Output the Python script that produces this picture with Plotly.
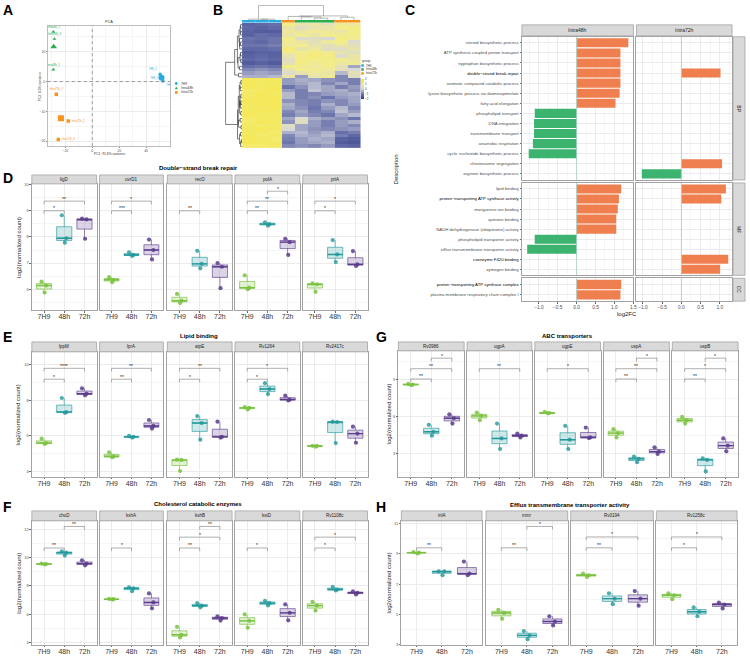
import numpy as np
import plotly.graph_objects as go

W, H = 750, 658
FONT = "Liberation Sans, Arial, Helvetica, sans-serif"
GRID = "#EBEBEB"
MINOR = "#F5F5F5"
BORDER = "#A3A3A3"
STRIP = "#D9D9D9"

# ---------------- Panel A : PCA ----------------
pca_samples = ["7H9_1", "7H9_2", "7H9_3", "Intra48h_1", "Intra48h_2", "Intra48h_3",
               "Intra72h_1", "Intra72h_2", "Intra72h_3"]
pca_group = ["7H9"] * 3 + ["Intra48h"] * 3 + ["Intra72h"] * 3
pca_pc1 = [50.4, 51.6, 52.5, -28.9, -28.9, -28.1, -26.7, -17.8, -25.2]
pca_pc2 = [2.4, 1.2, 0.2, 4.0, 16.7, 14.3, -4.3, -13.3, -19.5]
pca_textpos = ["top left", "middle left", "bottom right", "top center", "top center", "top center",
               "top center", "middle right", "middle right"]
pca_groups = ["7H9", "Intra48h", "Intra72h"]
pca_colors = ["#29ABE2", "#2DAB4F", "#F7941D"]
pca_symbols = ["circle", "triangle-up", "square"]

# ---------------- Panel B : heatmap (row z-scores) ----------------
hm_columns = ["7H9_1", "7H9_2", "7H9_3", "Intra72h_1", "Intra72h_2", "Intra72h_3",
              "Intra48h_1", "Intra48h_2", "Intra48h_3"]
hm_col_group = [0, 0, 0, 2, 2, 2, 1, 1, 1]
hm_values = [
    [-1.3, -1.2, -1.1, 0.9, 0.8, 0.7, 0.5, 0.6, 0.4],
    [-1.2, -1.3, -1.2, 0.6, 0.9, 1.0, 0.3, 0.5, 0.6],
    [-1.4, -1.3, -1.3, 0.8, 0.5, 0.3, 0.9, 1.0, 0.8],
    [-1.1, -1.0, -1.1, 1.0, 0.4, -0.5, 0.8, 0.7, 0.9],
    [-1.3, -1.4, -1.4, 0.7, 0.6, 0.9, 0.6, 0.8, 0.7],
    [-1.2, -1.1, -1.2, 0.3, 0.8, 0.6, 1.0, 0.9, 1.0],
    [-1.0, -1.1, -1.0, 0.9, 1.0, 0.8, 0.2, 0.3, 0.1],
    [-1.3, -1.2, -1.3, 0.5, 0.2, 0.6, 0.9, 1.1, 1.0],
    [-1.1, -1.2, -1.0, 0.8, 0.9, 0.2, 0.6, 0.4, 0.7],
    [-1.4, -1.3, -1.4, 0.4, 0.7, 0.8, 1.0, 0.8, 0.9],
    [-1.2, -1.2, -1.1, 1.1, 0.3, 0.5, 0.5, 0.7, 0.3],
    [-1.3, -1.1, -1.2, 0.6, 0.8, 0.9, 0.8, 0.6, 0.9],
    [-1.0, -1.0, -0.9, 0.7, 0.6, 0.4, 0.9, 0.5, 0.4],
    [-0.6, -0.5, -0.6, 0.2, -0.3, 0.4, 0.5, 0.7, 0.6],
    [-0.4, -0.4, -0.3, 0.6, -0.8, 0.3, -0.6, 0.5, 0.8],
    [-0.8, -0.7, -0.8, 0.5, 0.4, 0.1, 0.9, 0.8, 0.7],
    [1.5, 1.4, 1.5, -0.6, -0.8, -0.9, -0.4, -0.5, -0.7],
    [1.4, 1.5, 1.4, -0.3, -0.5, -0.4, -0.9, -0.8, -0.6],
    [1.5, 1.5, 1.4, -0.8, -0.2, -0.6, -0.5, -0.9, -0.8],
    [1.3, 1.4, 1.4, -0.5, -0.7, -1.0, 0.2, -0.4, -0.6],
    [1.5, 1.4, 1.5, -1.0, -0.9, -0.6, -0.7, -0.3, -0.5],
    [1.4, 1.3, 1.4, 0.3, -0.6, -0.8, -0.5, -0.6, -0.9],
    [1.5, 1.5, 1.5, -0.7, -0.8, -0.5, -0.8, -0.9, -0.7],
    [1.4, 1.4, 1.3, -0.4, -1.1, -0.9, -0.3, -0.6, -0.4],
    [1.5, 1.4, 1.4, -0.9, -0.5, -0.3, -0.6, -0.8, -1.0],
    [1.3, 1.4, 1.5, -0.6, -0.4, -0.7, -0.9, -0.2, -0.5],
    [1.4, 1.5, 1.4, 0.1, -0.7, -0.6, -0.5, -0.7, -0.8],
    [1.5, 1.3, 1.4, -0.8, -0.9, -1.2, -0.4, -0.5, -0.3],
    [1.4, 1.4, 1.5, -0.5, -0.3, -0.8, -0.7, -1.0, -0.6],
    [1.3, 1.5, 1.4, -0.7, -0.6, -0.4, 0.3, -0.6, -0.9],
    [1.5, 1.4, 1.3, -0.9, -1.3, -1.4, -0.6, -0.4, -0.5],
    [1.4, 1.5, 1.5, -0.4, -0.8, -0.6, -0.8, -0.9, -0.4],
    [1.5, 1.4, 1.4, -0.6, -0.5, -0.9, -0.5, -0.3, -0.8],
    [1.3, 1.3, 1.4, -0.8, -1.2, -1.3, -0.7, -0.8, -0.6],
    [1.4, 1.5, 1.5, -0.3, -0.6, -0.5, -0.9, -0.7, -1.0],
    [1.5, 1.4, 1.4, -1.0, -1.4, -1.5, -0.6, -0.5, -0.4],
]

# ---------------- Panel C : GO enrichment ----------------
bp_terms = ["steroid biosynthetic process", "ATP synthesis coupled proton transport",
            "tryptophan biosynthetic process", "double\u2212strand break repair",
            "aromatic compound catabolic process", "lysine biosynthetic process via diaminopimelate",
            "fatty acid elongation", "phospholipid transport", "DNA integration",
            "transmembrane transport", "anaerobic respiration",
            "cyclic nucleotide biosynthetic process", "chromosome segregation",
            "arginine biosynthetic process"]
bp_48h = [1.37, 1.16, 1.16, 1.16, 1.16, 1.14, 1.03, -1.11, -1.13, -1.13, -1.16, -1.27, None, None]
bp_72h = [None, None, None, 1.02, None, None, None, None, None, None, None, None, 1.06, -1.03]
mf_terms = ["lipid binding", "proton\u2212transporting ATP synthase activity", "manganese ion binding",
            "quinone binding", "NADH dehydrogenase (ubiquinone) activity",
            "phospholipid transporter activity", "efflux transmembrane transporter activity",
            "coenzyme F420 binding", "zymogen binding"]
mf_48h = [1.18, 1.12, 1.09, 1.05, 1.05, -1.11, -1.31, None, None]
mf_72h = [1.16, 1.04, None, None, None, None, None, 1.22, 1.01]
cc_terms = ["proton\u2212transporting ATP synthase complex", "plasma membrane respiratory chain complex I"]
cc_48h = [1.18, 1.16]
cc_72h = [None, None]
highlight_terms = ["double\u2212strand break repair", "proton\u2212transporting ATP synthase activity",
                   "coenzyme F420 binding", "proton\u2212transporting ATP synthase complex"]

# ---------------- Box panels ----------------
box_groups = ["7H9", "48h", "72h"]

D_genes = ["ligD", "uvrD1", "recO", "polA", "priA"]
D_7H9 = [[6.29, 6.14, 5.87], [6.46, 6.36, 6.27], [5.82, 5.56, 5.47], [6.53, 6.06, 6.00], [6.22, 6.19, 5.90]]
D_48h = [[8.83, 7.95, 7.78], [7.41, 7.31, 7.27], [7.47, 6.97, 6.80], [8.56, 8.49, 8.43], [7.88, 7.33, 7.04]]
D_72h = [[8.70, 8.67, 7.93], [7.90, 7.50, 7.14], [7.00, 6.86, 6.04], [7.93, 7.80, 7.31], [7.46, 6.95, 6.89]]
D_sig = [("ligD", 0, 1, "*", 9.0), ("ligD", 0, 2, "**", 9.37), ("uvrD1", 0, 1, "***", 9.0),
         ("uvrD1", 0, 2, "*", 9.37), ("recO", 0, 1, "**", 9.0), ("polA", 0, 1, "**", 9.0),
         ("polA", 0, 2, "**", 9.37), ("polA", 1, 2, "*", 9.75), ("priA", 0, 1, "*", 9.0),
         ("priA", 0, 2, "*", 9.37)]

E_genes = ["lppM", "lprA", "atpE", "Rv1264", "Rv2417c"]
E_7H9 = [[5.85, 5.60, 5.55], [5.09, 4.85, 4.81], [4.68, 4.66, 4.04], [7.61, 7.57, 7.48], [5.45, 5.44, 5.40]]
E_48h = [[8.12, 7.33, 7.29], [6.00, 5.95, 5.91], [7.11, 6.72, 5.79], [8.95, 8.62, 8.34], [6.80, 6.78, 5.60]]
E_72h = [[8.66, 8.36, 8.27], [6.89, 6.56, 6.41], [6.80, 5.95, 5.91], [8.25, 8.03, 7.98], [6.52, 6.13, 5.62]]
E_sig = [("lppM", 0, 1, "*", 9.17), ("lppM", 0, 2, "****", 9.78), ("lprA", 0, 1, "**", 9.17),
         ("lprA", 0, 2, "**", 9.78), ("atpE", 0, 1, "*", 9.17), ("atpE", 0, 2, "**", 9.78),
         ("Rv1264", 0, 1, "*", 9.17), ("Rv1264", 0, 2, "*", 9.78)]

F_genes = ["choD", "kshA", "kshB", "kstD", "Rv1108c"]
F_7H9 = [[9.59, 9.56, 9.54], [7.08, 7.06, 7.03], [5.10, 4.53, 4.34], [5.98, 5.52, 5.03], [6.87, 6.60, 6.25]]
F_48h = [[10.46, 10.37, 10.16], [7.91, 7.84, 7.63], [6.78, 6.60, 6.48], [6.94, 6.78, 6.62], [7.93, 7.75, 7.68]]
F_72h = [[9.82, 9.59, 9.47], [7.47, 6.83, 6.41], [5.84, 5.72, 5.54], [6.69, 6.09, 5.56], [7.61, 7.52, 7.40]]
F_sig = [("choD", 0, 1, "**", 10.7), ("choD", 1, 2, "**", 12.23), ("kshA", 0, 1, "*", 10.7),
         ("kshB", 0, 1, "**", 10.7), ("kshB", 0, 2, "*", 11.47), ("kshB", 1, 2, "**", 12.23),
         ("kstD", 0, 1, "*", 10.7), ("Rv1108c", 0, 1, "*", 10.7), ("Rv1108c", 0, 2, "*", 11.47)]

G_genes = ["Rv0986", "ugpA", "ugpE", "uspA", "uspB"]
G_7H9 = [[8.65, 8.60, 8.55], [6.33, 6.07, 5.72], [6.39, 6.30, 6.28], [5.00, 4.68, 4.33], [5.99, 5.72, 5.45]]
G_48h = [[5.35, 4.79, 4.47], [5.45, 4.25, 3.40], [5.27, 4.15, 3.40], [2.79, 2.60, 2.33], [2.65, 2.52, 1.59]]
G_72h = [[6.20, 5.88, 5.45], [4.65, 4.47, 4.33], [5.13, 4.33, 4.28], [3.53, 3.19, 3.00], [4.25, 3.67, 3.21]]
G_sig = [("Rv0986", 0, 1, "**", 9.05), ("Rv0986", 0, 2, "**", 9.88), ("Rv0986", 1, 2, "*", 10.73),
         ("ugpA", 0, 2, "**", 9.88), ("ugpE", 0, 2, "*", 9.88), ("uspA", 0, 1, "**", 9.05),
         ("uspA", 0, 2, "**", 9.88), ("uspA", 1, 2, "*", 10.73), ("uspB", 0, 1, "**", 9.05),
         ("uspB", 0, 2, "*", 9.88), ("uspB", 1, 2, "*", 10.73)]

H_genes = ["inlA", "mmr", "Rv0194", "Rv1258c"]
H_7H9 = [[9.13, 9.09, 9.04], [5.30, 5.09, 4.70], [7.70, 7.59, 7.48], [6.39, 6.26, 6.00]]
H_48h = [[7.85, 7.85, 7.59], [3.89, 3.60, 3.35], [6.39, 6.04, 5.67], [5.46, 5.17, 4.87]]
H_72h = [[8.50, 7.70, 7.59], [4.87, 4.52, 4.26], [6.54, 6.04, 5.57], [5.78, 5.65, 5.39]]
H_sig = [("inlA", 0, 1, "**", 9.41), ("mmr", 0, 1, "**", 9.41), ("mmr", 1, 2, "*", 10.83),
         ("Rv0194", 0, 1, "**", 9.41), ("Rv0194", 0, 2, "*", 10.13), ("Rv1258c", 0, 1, "*", 9.41),
         ("Rv1258c", 0, 2, "*", 10.13)]

# ---------------- helpers ----------------
fig = go.Figure()
axes_layout = {}
shapes = []
annotations = []
n_axes = [0]


def add_axes(x0, x1, y0, y1, xo=None, yo=None):
    n_axes[0] += 1
    n = n_axes[0]
    s = "" if n == 1 else str(n)
    xd = dict(domain=[x0 / W, x1 / W], anchor="y" + s, fixedrange=True)
    yd = dict(domain=[1 - y1 / H, 1 - y0 / H], anchor="x" + s, fixedrange=True)
    if xo:
        xd.update(xo)
    if yo:
        yd.update(yo)
    axes_layout["xaxis" + s] = xd
    axes_layout["yaxis" + s] = yd
    return "x" + s, "y" + s


def text_px(x, y, s, size, color="#000000", bold=False, xanchor="center", yanchor="middle", angle=0):
    annotations.append(dict(x=x / W, y=1 - y / H, xref="paper", yref="paper",
                            text=f"<b>{s}</b>" if bold else s, showarrow=False,
                            font=dict(size=size, color=color, family=FONT),
                            xanchor=xanchor, yanchor=yanchor, textangle=angle, borderpad=0))


def rect_px(x0, y0, x1, y1, fill, line=BORDER, lw=0.8):
    shapes.append(dict(type="rect", xref="paper", yref="paper", x0=x0 / W, x1=x1 / W,
                       y0=1 - y1 / H, y1=1 - y0 / H, fillcolor=fill,
                       line=dict(color=line, width=lw)))


HIDDEN = dict(visible=False, showgrid=False, zeroline=False)

# ---------------- Panel A ----------------
xa, ya = add_axes(48, 171, 24, 145,
                  dict(range=[-33, 58], tickvals=[-20, 0, 20, 40], showgrid=True, gridcolor=GRID,
                       gridwidth=0.5, minor=dict(tickvals=[-30, -10, 10, 30, 50], showgrid=True,
                                                 gridcolor=MINOR, gridwidth=0.4),
                       zeroline=False, showline=True, mirror=True, linecolor="#BDBDBD", linewidth=0.6,
                       ticks="outside", ticklen=1, tickcolor="#888",
                       tickfont=dict(size=3.5, color="#555", family=FONT)),
                  dict(range=[-21.7, 18.7], tickvals=[-20, -10, 0, 10], showgrid=True, gridcolor=GRID,
                       gridwidth=0.5, minor=dict(tickvals=[-15, -5, 5, 15], showgrid=True,
                                                 gridcolor=MINOR, gridwidth=0.4),
                       zeroline=False, showline=True, mirror=True, linecolor="#BDBDBD", linewidth=0.6,
                       ticks="outside", ticklen=1, tickcolor="#888",
                       tickfont=dict(size=3.5, color="#555", family=FONT)))
shapes.append(dict(type="line", xref=xa, yref=ya + " domain", x0=0, x1=0, y0=0, y1=1,
                   line=dict(color="#777777", width=0.7, dash="dot")))
shapes.append(dict(type="line", xref=xa + " domain", yref=ya, x0=0, x1=1, y0=0, y1=0,
                   line=dict(color="#777777", width=0.7, dash="dot")))
pc1 = np.array(pca_pc1)
pc2 = np.array(pca_pc2)
grp = np.array(pca_group)
tpos = np.array(pca_textpos)
for gname, col, sym in zip(pca_groups, pca_colors, pca_symbols):
    m = grp == gname
    fig.add_trace(go.Scatter(x=[pc1[m].mean()], y=[pc2[m].mean()], mode="markers", xaxis=xa, yaxis=ya,
                             marker=dict(color=col, symbol=sym, size=6), hoverinfo="skip"))
    fig.add_trace(go.Scatter(x=pc1[m], y=pc2[m], mode="markers+text", xaxis=xa, yaxis=ya,
                             text=list(np.array(pca_samples)[m]), textposition=list(tpos[m]),
                             textfont=dict(size=2.8, color=col, family=FONT),
                             marker=dict(color=col, symbol=sym, size=3.5), hoverinfo="skip"))
text_px(109, 20, "PCA", 3.8, "#333")
text_px(110, 153, "PC1: 91.8% variance", 3.3, "#333")
text_px(41, 85, "PC2: 4.5% variance", 3.3, "#333", angle=-90)
for i, (gname, col) in enumerate(zip(pca_groups, pca_colors)):
    cy = 82 + 4.5 * i
    if i == 0:
        shapes.append(dict(type="circle", xref="paper", yref="paper", x0=175.6 / W, x1=178.4 / W,
                           y0=1 - (cy + 1.4) / H, y1=1 - (cy - 1.4) / H, fillcolor=col, line=dict(width=0)))
    elif i == 1:
        shapes.append(dict(type="path", xref="paper", yref="paper",
                           path=f"M {175.5 / W} {1 - (cy + 1.4) / H} L {178.5 / W} {1 - (cy + 1.4) / H} L {177 / W} {1 - (cy - 1.6) / H} Z",
                           fillcolor=col, line=dict(width=0)))
    else:
        shapes.append(dict(type="rect", xref="paper", yref="paper", x0=175.6 / W, x1=178.4 / W,
                           y0=1 - (cy + 1.4) / H, y1=1 - (cy - 1.4) / H, fillcolor=col, line=dict(width=0)))
    text_px(180.5, cy, gname, 3.3, "#333", xanchor="left")


# ---------------- Panel B ----------------
def cluster(X):
    X = np.asarray(X, float)
    n = len(X)
    D = np.sqrt(((X[:, None, :] - X[None, :, :]) ** 2).sum(-1))
    nodes = [dict(m=[i], h=0.0, l=None, r=None) for i in range(n)]
    active = list(range(n))
    while len(active) > 1:
        best = None
        for ai in range(len(active)):
            for bi in range(ai + 1, len(active)):
                a, b = active[ai], active[bi]
                d = D[np.ix_(nodes[a]["m"], nodes[b]["m"])].max()
                if best is None or d < best[0]:
                    best = (d, a, b)
        d, a, b = best
        if min(nodes[a]["m"]) > min(nodes[b]["m"]):
            a, b = b, a
        nodes.append(dict(m=nodes[a]["m"] + nodes[b]["m"], h=d, l=a, r=b))
        active = [k for k in active if k not in (a, b)] + [len(nodes) - 1]
    root = active[0]
    order = []

    def walk(k):
        if nodes[k]["l"] is None:
            order.append(k)
        else:
            walk(nodes[k]["l"])
            walk(nodes[k]["r"])

    walk(root)
    pos = {leaf: i for i, leaf in enumerate(order)}

    def p(k):
        if nodes[k]["l"] is None:
            return pos[k]
        return (p(nodes[k]["l"]) + p(nodes[k]["r"])) / 2

    ps, hs = [], []
    for k in range(n, len(nodes)):
        a, b = nodes[k]["l"], nodes[k]["r"]
        pa, pb = p(a), p(b)
        ps += [pa, pa, pb, pb, None]
        hs += [nodes[a]["h"], nodes[k]["h"], nodes[k]["h"], nodes[b]["h"], None]
    return order, ps, hs, nodes[root]["h"]


M = np.array(hm_values)
row_order, rp, rh, rmax = cluster(M)
col_order, cp, ch, cmax = cluster(M.T)
Z = M[row_order][:, col_order]
nr, nc = Z.shape
HM_SCALE = [[0, "#2E3A8A"], [0.25, "#6C75AC"], [0.5, "#D6D6DC"], [0.72, "#F3EC8C"], [1, "#F6E634"]]
xh, yh = add_axes(243, 362, 21, 147, dict(HIDDEN, range=[-0.5, nc - 0.5]),
                  dict(HIDDEN, range=[nr - 0.5, -0.5]))
fig.add_trace(go.Heatmap(z=Z, x=list(range(nc)), y=list(range(nr)), xaxis=xh, yaxis=yh,
                         colorscale=HM_SCALE, zmin=-2, zmax=2, hoverinfo="skip",
                         colorbar=dict(x=362.7 / W, xanchor="left", y=1 - 77.7 / H, yanchor="top",
                                       len=19.5, lenmode="pixels", thickness=3.2, outlinewidth=0,
                                       tickvals=[-2, -1, 0, 1, 2], ticks="", xpad=0, ypad=0,
                                       tickfont=dict(size=3, color="#333", family=FONT))))
grp_cols = [pca_colors[hm_col_group[c]] for c in col_order]
xg, yg = add_axes(243, 362, 18, 21, dict(HIDDEN, range=[-0.5, nc - 0.5]), dict(HIDDEN, range=[-0.5, 0.5]))
fig.add_trace(go.Bar(x=list(range(nc)), y=[1] * nc, base=-0.5, width=1, xaxis=xg, yaxis=yg,
                     marker=dict(color=grp_cols, line=dict(width=0)), hoverinfo="skip"))
xc, yc = add_axes(243, 362, 3, 18, dict(HIDDEN, range=[-0.5, nc - 0.5]), dict(HIDDEN, range=[0, cmax * 1.03]))
fig.add_trace(go.Scatter(x=cp, y=ch, mode="lines", xaxis=xc, yaxis=yc,
                         line=dict(color="#888888", width=0.6), hoverinfo="skip"))
xr_, yr_ = add_axes(226, 243, 21, 147, dict(HIDDEN, range=[rmax * 1.03, 0]), dict(HIDDEN, range=[nr - 0.5, -0.5]))
fig.add_trace(go.Scatter(x=rh, y=rp, mode="lines", xaxis=xr_, yaxis=yr_,
                         line=dict(color="#222222", width=0.6), hoverinfo="skip"))
text_px(362.5, 59, "group", 3.3, "#333", xanchor="left")
for i, (gname, col) in enumerate(zip(pca_groups, pca_colors)):
    y0 = 62.7 + 4 * i
    shapes.append(dict(type="rect", xref="paper", yref="paper", x0=362.7 / W, x1=365.3 / W,
                       y0=1 - (y0 + 2.4) / H, y1=1 - y0 / H, fillcolor=col, line=dict(width=0)))
    text_px(366.5, y0 + 1.2, gname, 3, "#333", xanchor="left")

# ---------------- Panel C ----------------
ORANGE = "#EF7F4F"
GREEN = "#3DB370"
C_x = [(524, 636), (639, 735)]
C_xrange = [[-1.45, 1.505], [-1.17, 1.32]]
C_rows = [("BP", bp_terms, bp_48h, bp_72h, (35, 179)),
          ("MF", mf_terms, mf_48h, mf_72h, (182, 275)),
          ("CC", cc_terms, cc_48h, cc_72h, (278, 301))]
for ri, (lab, terms, v48, v72, (y0, y1)) in enumerate(C_rows):
    n = len(terms)
    ticktext = [f"<span style='color:#000000'>{t}</span>" if t in highlight_terms else t for t in terms]
    for ci, vals in enumerate([v48, v72]):
        x0, x1 = C_x[ci]
        xr, yr = add_axes(x0, x1, y0, y1,
                          dict(range=C_xrange[ci], tick0=0, dtick=0.5, tickformat=".1f",
                               showgrid=True, gridcolor=GRID, gridwidth=0.6,
                               minor=dict(dtick=0.25, tick0=0, showgrid=True, gridcolor=MINOR, gridwidth=0.4),
                               zeroline=False, showline=True, mirror=True, linecolor=BORDER, linewidth=0.8,
                               showticklabels=(ri == 2), ticks="outside" if ri == 2 else "", ticklen=1.5,
                               tickcolor="#666", tickwidth=0.5,
                               tickfont=dict(size=4.8, color="#4D4D4D", family=FONT)),
                          dict(range=[n - 0.4, -0.6], tickmode="array", tickvals=list(range(n)),
                               ticktext=ticktext, showticklabels=(ci == 0),
                               showgrid=True, gridcolor=GRID, gridwidth=0.6, zeroline=False,
                               showline=True, mirror=True, linecolor=BORDER, linewidth=0.8,
                               ticks="outside" if ci == 0 else "", ticklen=1.5, tickcolor="#666", tickwidth=0.5,
                               tickfont=dict(size=4.3, color="#4D4D4D", family=FONT)))
        fig.add_trace(go.Scatter(x=[0, 0], y=[-0.6, n - 0.4], mode="lines", xaxis=xr, yaxis=yr,
                                 line=dict(color="#A9CFC4", width=0.8), hoverinfo="skip"))
        idx = [i for i, v in enumerate(vals) if v is not None]
        if idx:
            fig.add_trace(go.Bar(x=[vals[i] for i in idx], y=idx, orientation="h", width=0.9,
                                 xaxis=xr, yaxis=yr, hoverinfo="skip",
                                 marker=dict(color=[ORANGE if vals[i] > 0 else GREEN for i in idx],
                                             line=dict(width=0))))
    rect_px(736, y0, 748, y1, STRIP)
    text_px(742, (y0 + y1) / 2, lab, 5, "#1A1A1A", angle=90)
for (x0, x1), lab in zip(C_x, ["Intra48h", "Intra72h"]):
    rect_px(x0, 23, x1, 34, STRIP)
    text_px((x0 + x1) / 2, 28.5, lab, 5, "#1A1A1A")
text_px(630, 314, "log2FC", 6, "#1A1A1A")
text_px(398, 168, "Description", 6, "#1A1A1A", angle=-90)

# ---------------- Box panels ----------------
LINE_C = ["rgba(124,194,66,0.75)", "rgba(35,152,154,0.7)", "rgba(92,60,141,0.7)"]
MED_C = ["#7CC242", "#23989A", "#5C3C8D"]
FILL_C = ["rgba(124,194,66,0.22)", "rgba(35,152,154,0.22)", "rgba(92,60,141,0.22)"]
PT_C = ["rgba(124,194,66,0.85)", "rgba(35,152,154,0.8)", "rgba(92,60,141,0.85)"]
JIT = [-0.12, 0.1, 0.03]


def box_row(genes, g7, g48, g72, sig, xpanels, ypx, chippx, yrange, dtick, tick0, mdtick,
            title, title_xy, ytitle_x):
    span = yrange[1] - yrange[0]
    for gi, gene in enumerate(genes):
        x0, x1 = xpanels[gi]
        xr, yr = add_axes(x0, x1, ypx[0], ypx[1],
                          dict(range=[-0.6, 2.6], tickmode="array", tickvals=[0, 1, 2], ticktext=box_groups,
                               showgrid=True, gridcolor=GRID, gridwidth=0.7, zeroline=False,
                               showline=True, mirror=True, linecolor=BORDER, linewidth=0.8,
                               ticks="outside", ticklen=1.5, tickcolor="#666", tickwidth=0.5,
                               ticklabelstandoff=-2,
                               tickfont=dict(size=7, color="#333333", family=FONT)),
                          dict(range=yrange, tick0=tick0, dtick=dtick, showgrid=True, gridcolor=GRID,
                               gridwidth=0.7,
                               minor=dict(dtick=mdtick, tick0=tick0, showgrid=True, gridcolor=MINOR, gridwidth=0.5),
                               zeroline=False, showline=True, mirror=True, linecolor=BORDER, linewidth=0.8,
                               showticklabels=(gi == 0), ticks="outside" if gi == 0 else "", ticklen=1.5,
                               tickcolor="#666", tickwidth=0.5,
                               tickfont=dict(size=4, color="#4D4D4D", family=FONT)))
        for k, series in enumerate([g7, g48, g72]):
            vals = series[gi]
            fig.add_trace(go.Box(x=[k] * len(vals), y=vals, xaxis=xr, yaxis=yr, width=0.75,
                                 boxpoints=False, quartilemethod="inclusive", whiskerwidth=0,
                                 line=dict(color=LINE_C[k], width=0.9), fillcolor=FILL_C[k],
                                 hoverinfo="skip"))
            med = float(np.median(vals))
            fig.add_trace(go.Scatter(x=[k - 0.375, k + 0.375], y=[med, med], mode="lines", xaxis=xr,
                                     yaxis=yr, line=dict(color=MED_C[k], width=1.4), hoverinfo="skip"))
            fig.add_trace(go.Scatter(x=[k + j for j in JIT[:len(vals)]], y=vals, mode="markers",
                                     xaxis=xr, yaxis=yr, marker=dict(color=PT_C[k], size=4.2, line=dict(width=0)),
                                     hoverinfo="skip"))
        for (g, a, b, lab, lev) in sig:
            if g != gene:
                continue
            tip = 0.025 * span
            fig.add_trace(go.Scatter(x=[a, a, b, b], y=[lev - tip, lev, lev, lev - tip], mode="lines",
                                     xaxis=xr, yaxis=yr, line=dict(color="#8C8C8C", width=0.7),
                                     hoverinfo="skip"))
            annotations.append(dict(x=(a + b) / 2, y=lev, xref=xr, yref=yr, text=lab, showarrow=False,
                                    font=dict(size=5, color="#222222", family=FONT),
                                    yanchor="bottom", yshift=-1.5, borderpad=0))
        rect_px(x0, chippx[0], x1, chippx[1], STRIP)
        text_px((x0 + x1) / 2, (chippx[0] + chippx[1]) / 2, gene, 4.5, "#1A1A1A")
    text_px(title_xy[0], title_xy[1], title, 6, "#000", bold=True)
    text_px(ytitle_x, (ypx[0] + ypx[1]) / 2, "log2(normalized count)", 6, "#1A1A1A", angle=-90)


LEFT_X = [(32, 97), (100, 164), (168, 233), (236, 301), (304, 369)]
G_X = [(400, 466), (469, 534), (537, 603), (606, 672), (675, 741)]
H_X = [(403, 484), (488, 570), (573, 656), (659, 740)]

box_row(D_genes, D_7H9, D_48h, D_72h, D_sig, LEFT_X, (183, 310), (174, 183), [5.2, 10.03], 1, 0, 0.5,
        "Double\u2212strand break repair", (199, 167), 19)
box_row(E_genes, E_7H9, E_48h, E_72h, E_sig, LEFT_X, (352, 478), (342, 352), [3.7, 10.7], 2, 0, 1,
        "Lipid binding", (200, 336), 19)
box_row(F_genes, F_7H9, F_48h, F_72h, F_sig, LEFT_X, (522, 647), (512, 522), [3.8, 12.63], 2, 0, 1,
        "Cholesterol catabolic enzymes", (199, 505), 19)
box_row(G_genes, G_7H9, G_48h, G_72h, G_sig, G_X, (351, 478), (342, 351), [1.13, 11.32], 3, 0, 1.5,
        "ABC transporters", (570, 336), 391)
box_row(H_genes, H_7H9, H_48h, H_72h, H_sig, H_X, (522, 647), (512, 522), [2.96, 11.2], 2, 1, 1,
        "Efflux transmembrane transporter activity", (572, 506), 391)

# panel letters
for L, (x, y) in zip("ABCDEFGH", [(8, 8), (219, 8), (412, 8), (8, 177), (8, 337), (8, 508), (383, 337), (383, 508)]):
    text_px(x, y, L, 14, "#000", bold=True)

fig.update_layout(width=W, height=H, margin=dict(l=0, r=0, t=0, b=0), autosize=False,
                  paper_bgcolor="white", plot_bgcolor="white", showlegend=False,
                  font=dict(family=FONT), barmode="overlay", boxmode="overlay",
                  shapes=shapes, annotations=annotations, **axes_layout)
fig.write_html("out.html")
